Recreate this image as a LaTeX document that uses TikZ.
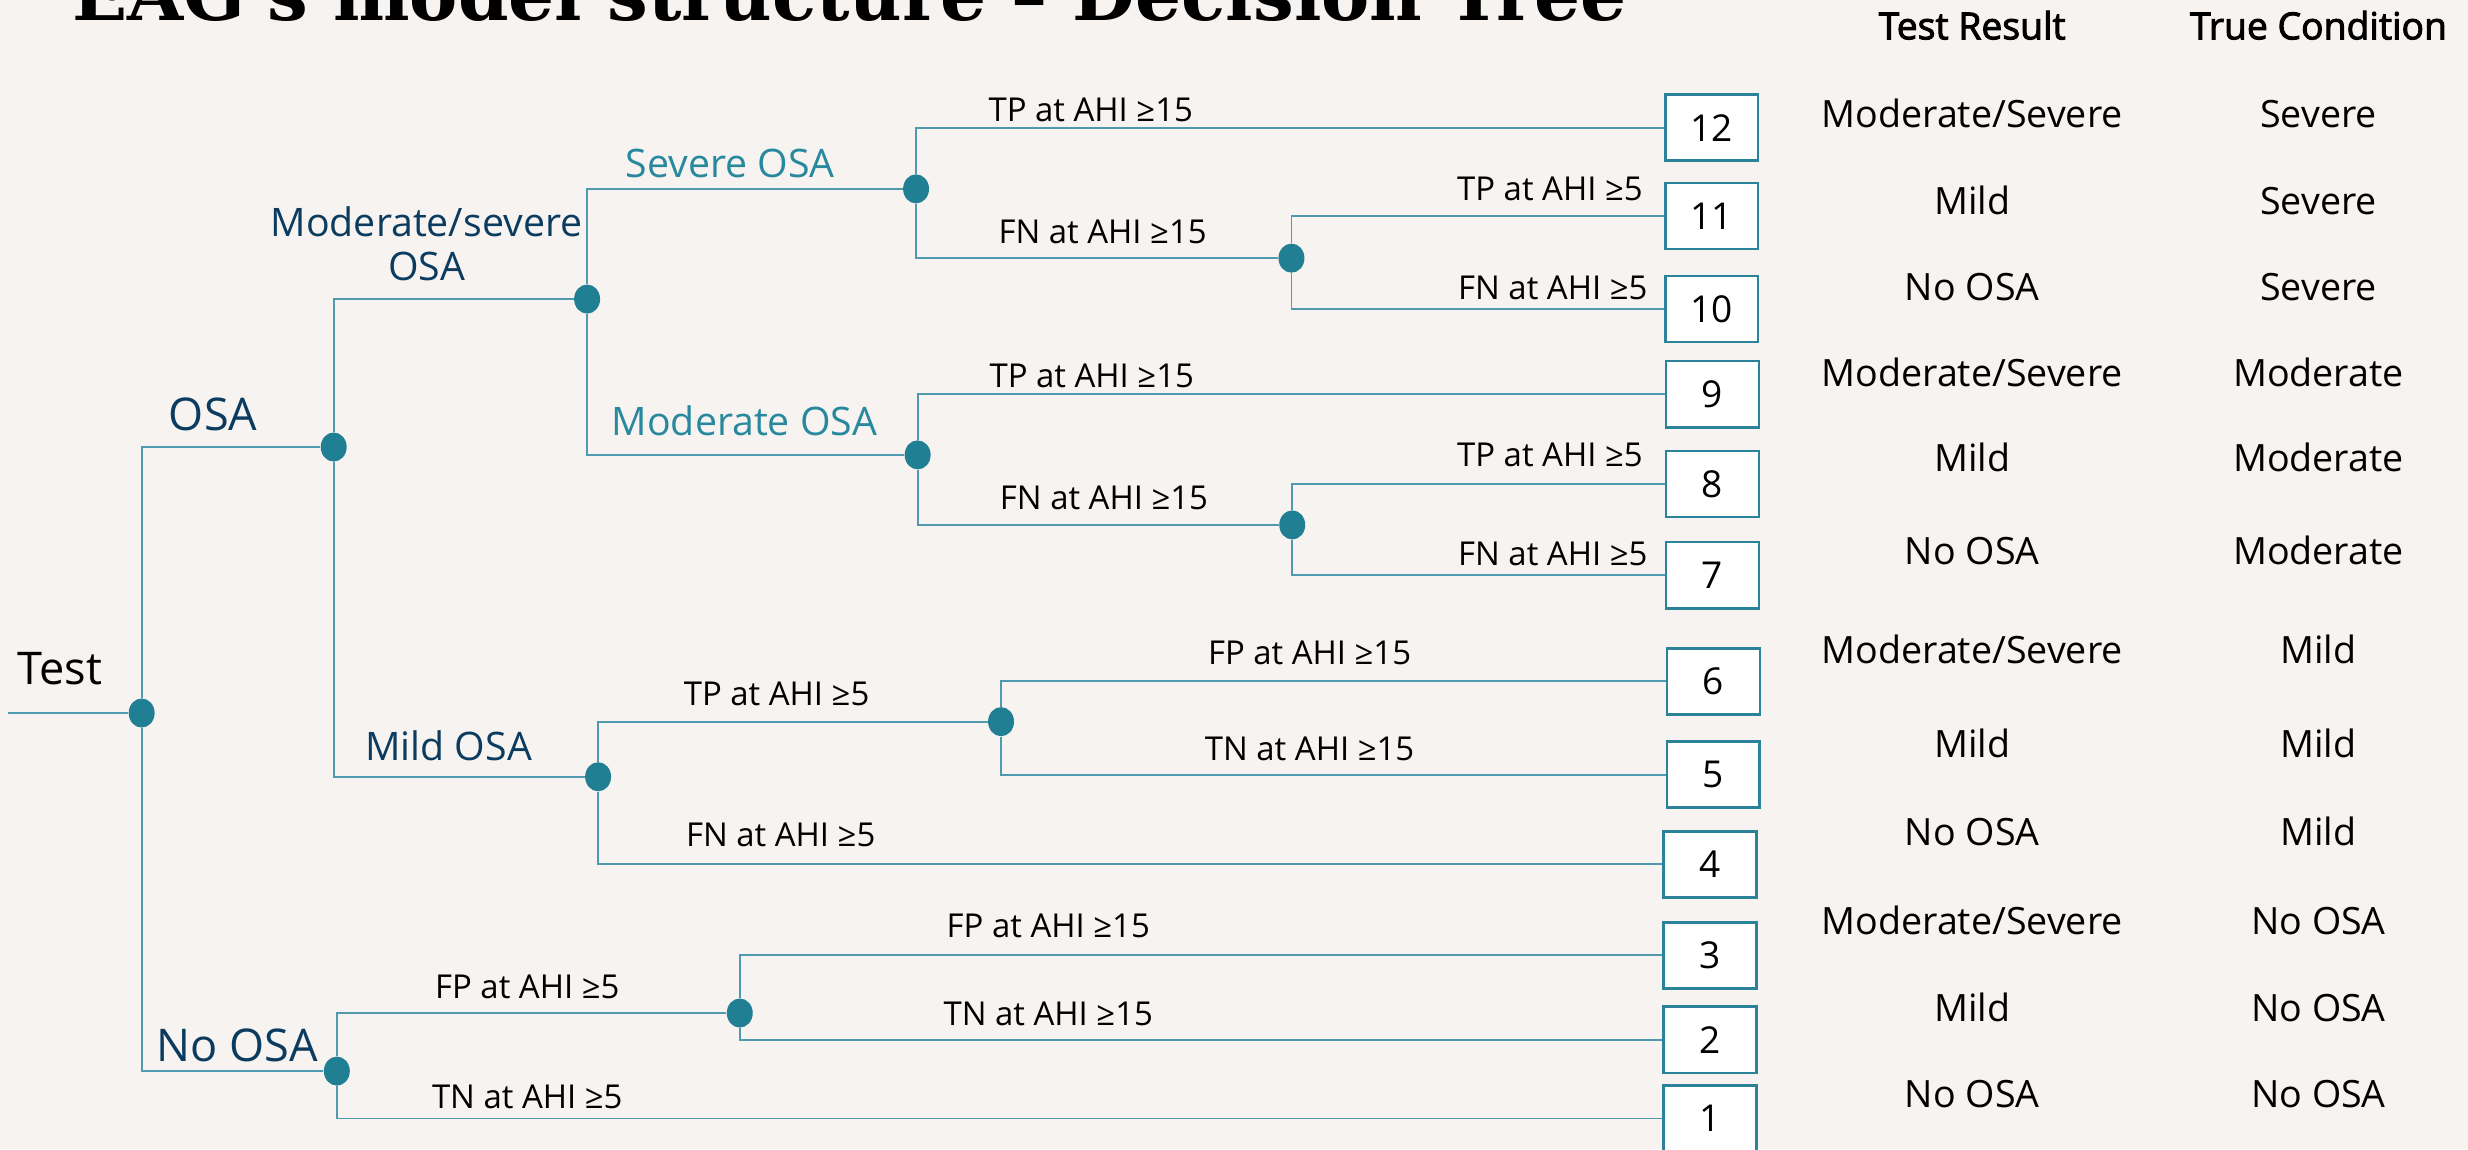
\documentclass[tikz,border=0pt]{standalone}
\usepackage{fontspec}
\usepackage{graphicx}
\setmainfont{Open Sans}
\newfontfamily\titlefont{DejaVu Serif}
\newfontfamily\hdrfont[FakeBold=2.5]{Open Sans}
\usetikzlibrary{shapes.geometric}
\definecolor{bgc}{HTML}{F6F3F0}
\definecolor{lnc}{HTML}{4F9AAE}
\definecolor{dotc}{HTML}{217F94}
\definecolor{bxc}{HTML}{2B8399}
\definecolor{navyc}{HTML}{0B3C5F}
\definecolor{tealc}{HTML}{27889E}
\tikzset{
  chance/.style={ellipse, fill=dotc, minimum width=0.33cm, minimum height=0.37cm, inner sep=0pt},
  endbox/.style={draw=bxc, line width=0.9pt, fill=white, minimum width=1.18cm, minimum height=0.84cm, inner sep=0pt, font=\fontsize{13.4}{15}\selectfont},
  br/.style={draw=lnc, line width=0.7pt},
  elab/.style={inner sep=0pt, text height=8.5pt, text depth=0pt, font=\fontsize{11.9}{14}\selectfont},
  rowt/.style={inner sep=0pt, text height=9.5pt, text depth=0pt, font=\fontsize{13.6}{15}\selectfont},
  hdr/.style={inner sep=0pt, text height=9.64pt, text depth=0pt, font=\hdrfont\fontsize{13.5}{16}\selectfont},
  biglab/.style={inner sep=0pt, text height=11.4pt, text depth=0pt, font=\fontsize{16.3}{19}\selectfont},
  midlab/.style={inner sep=0pt, text height=10.1pt, text depth=0pt, font=\fontsize{14.2}{17}\selectfont},
}
\begin{document}
\begin{tikzpicture}[x=0.02cm, y=-0.02cm]
\useasboundingbox (0,0) rectangle (1568,730);
\fill[bgc] (0,0) rectangle (1568,730);
\clip (0,0) rectangle (1568,730);

% title (cut off at the top, as in the reference)
\node[anchor=base west, inner sep=0pt] (title) at (45.5,13)
  {\resizebox{562pt}{!}{\titlefont\bfseries EAG's model structure – Decision Tree}};

% column headers
\node[hdr] (h1) at (1253,16.5) {Test Result};
\node[hdr] (h2) at (1473,16.5) {True Condition};

% chance nodes
\node[chance] (dTest) at (90,453) {};
\node[chance] (dOSA) at (212,284) {};
\node[chance] (dNo) at (214,680.5) {};
\node[chance] (dMS) at (373,190) {};
\node[chance] (dMild) at (380,493.5) {};
\node[chance] (dSev) at (582,120) {};
\node[chance] (dMod) at (583,289) {};
\node[chance] (dSevFN) at (820.5,164) {};
\node[chance] (dModFN) at (821,333.5) {};
\node[chance] (dMildTP) at (636,458.5) {};
\node[chance] (dNoFP) at (470,643.6) {};

% terminal boxes
\node[endbox] (b12) at (1087.5,81.1) {12};
\node[endbox] (b11) at (1087.5,137.2) {11};
\node[endbox] (b10) at (1087.5,196.2) {10};
\node[endbox] (b9) at (1088,250.5) {9};
\node[endbox] (b8) at (1088,307.5) {8};
\node[endbox] (b7) at (1088,365.5) {7};
\node[endbox] (b6) at (1088.6,432.9) {6};
\node[endbox] (b5) at (1088.5,492.1) {5};
\node[endbox] (b4) at (1086.5,549.2) {4};
\node[endbox] (b3) at (1086.3,607) {3};
\node[endbox] (b2) at (1086.3,660.6) {2};
\node[endbox] (b1) at (1086.3,710.6) {1};

% connectors
\coordinate (start) at (5,453);
\draw[br] (start) -- (dTest);
\draw[br] (dTest) |- (dOSA);
\draw[br] (dTest) |- (dNo);
\draw[br] (dOSA) |- (dMS);
\draw[br] (dOSA) |- (dMild);
\draw[br] (dMS) |- (dSev);
\draw[br] (dMS) |- (dMod);
\draw[br] (dSev) |- (b12);
\draw[br] (dSev) |- (dSevFN);
\draw[br] (dSevFN) |- (b11);
\draw[br] (dSevFN) |- (b10);
\draw[br] (dMod) |- (b9);
\draw[br] (dMod) |- (dModFN);
\draw[br] (dModFN) |- (b8);
\draw[br] (dModFN) |- (b7);
\draw[br] (dMild) |- (dMildTP);
\draw[br] (dMild) |- (b4);
\draw[br] (dMildTP) |- (b6);
\draw[br] (dMildTP) |- (b5);
\draw[br] (dNo) |- (dNoFP);
\draw[br] (dNo) |- (b1);
\draw[br] (dNoFP) |- (b3);
\draw[br] (dNoFP) |- (b2);

% branch titles
\node[biglab] (lTest) at (38,424.6) {Test};
\node[biglab, text=navyc] (lOSA) at (135.4,263.3) {OSA};
\node[biglab, text=navyc] (lNo) at (150.6,664.5) {No OSA};
\node[inner sep=0pt, text=navyc, align=center, font=\fontsize{14.2}{15.8}\selectfont] (lMS) at (271,155) {Moderate/severe\\OSA};
\node[midlab, text=navyc] (lMild) at (285,474.4) {Mild OSA};
\node[midlab, text=tealc] (lSev) at (464,104) {Severe OSA};
\node[midlab, text=tealc] (lMod) at (473,268) {Moderate OSA};

% edge labels
\node[elab] (e1) at (693,69.5) {TP at AHI ≥15};
\node[elab] (e2) at (700.5,147) {FN at AHI ≥15};
\node[elab, anchor=east] (e3) at (1044,120) {TP at AHI ≥5};
\node[elab, anchor=east] (e4) at (1047,183) {FN at AHI ≥5};
\node[elab] (e5) at (693.6,239) {TP at AHI ≥15};
\node[elab] (e6) at (701.4,316.4) {FN at AHI ≥15};
\node[elab, anchor=east] (e7) at (1044,289) {TP at AHI ≥5};
\node[elab, anchor=east] (e8) at (1047,352) {FN at AHI ≥5};
\node[elab] (e9) at (493.4,440.5) {TP at AHI ≥5};
\node[elab] (e10) at (496,530.5) {FN at AHI ≥5};
\node[elab] (e11) at (832,415) {FP at AHI ≥15};
\node[elab] (e12) at (832,476) {TN at AHI ≥15};
\node[elab] (e13) at (335,627) {FP at AHI ≥5};
\node[elab] (e14) at (335,697) {TN at AHI ≥5};
\node[elab] (e15) at (666,588) {FP at AHI ≥15};
\node[elab] (e16) at (666,644) {TN at AHI ≥15};

% result columns
\node[rowt] (r1a) at (1253,72.6) {Moderate/Severe};
\node[rowt] (r1b) at (1473,72.6) {Severe};
\node[rowt] (r2a) at (1253,127.7) {Mild};
\node[rowt] (r2b) at (1473,127.7) {Severe};
\node[rowt] (r3a) at (1253,182.6) {No OSA};
\node[rowt] (r3b) at (1473,182.6) {Severe};
\node[rowt] (r4a) at (1253,237) {Moderate/Severe};
\node[rowt] (r4b) at (1473,237) {Moderate};
\node[rowt] (r5a) at (1253,291) {Mild};
\node[rowt] (r5b) at (1473,291) {Moderate};
\node[rowt] (r6a) at (1253,350) {No OSA};
\node[rowt] (r6b) at (1473,350) {Moderate};
\node[rowt] (r7a) at (1253,413.5) {Moderate/Severe};
\node[rowt] (r7b) at (1473,413.5) {Mild};
\node[rowt] (r8a) at (1253,472.8) {Mild};
\node[rowt] (r8b) at (1473,472.8) {Mild};
\node[rowt] (r9a) at (1253,529) {No OSA};
\node[rowt] (r9b) at (1473,529) {Mild};
\node[rowt] (r10a) at (1253,585.4) {Moderate/Severe};
\node[rowt] (r10b) at (1473,585.4) {No OSA};
\node[rowt] (r11a) at (1253,640.5) {Mild};
\node[rowt] (r11b) at (1473,640.5) {No OSA};
\node[rowt] (r12a) at (1253,695.3) {No OSA};
\node[rowt] (r12b) at (1473,695.3) {No OSA};
\end{tikzpicture}
\end{document}
